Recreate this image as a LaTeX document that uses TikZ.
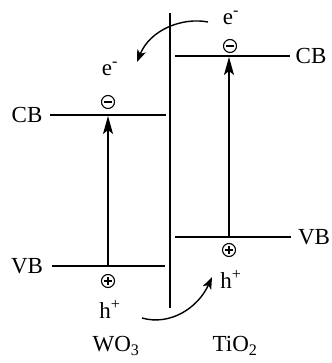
\documentclass[tikz,border=0pt]{standalone}
\usepackage{fontspec}
\setmainfont{Liberation Serif}
\usetikzlibrary{arrows.meta}

\begin{document}
\begin{tikzpicture}[x=1pt, y=-1pt, font=\fontsize{23}{25}\selectfont,
    band/.style={line width=1.8pt},
    excite/.style={line width=1.4pt, -{Stealth[length=18pt, width=10pt, inset=4pt]}},
    hop/.style={line width=1.4pt, -{Stealth[length=12pt, width=9pt, inset=3pt]}},
    elec/.style={circle, draw, line width=1.1pt, minimum size=13pt, inner sep=0pt,
        path picture={\draw[line width=1.1pt] ([xshift=2.5pt]path picture bounding box.west) -- ([xshift=-2.5pt]path picture bounding box.east);}},
    hole/.style={circle, draw, line width=1.1pt, minimum size=13pt, inner sep=0pt,
        path picture={\draw[line width=1.1pt] ([xshift=2.5pt]path picture bounding box.west) -- ([xshift=-2.5pt]path picture bounding box.east);
            \draw[line width=1.1pt] ([yshift=-2.5pt]path picture bounding box.north) -- ([yshift=2.5pt]path picture bounding box.south);}}]
    \useasboundingbox (0,0) rectangle (331,363);
    % interface
    \coordinate (top) at (170,13); \coordinate (bot) at (170,308);
    \draw[band] (top) -- (bot);
    % band edges
    \node (cbW) at (27,115) {CB}; \node (vbW) at (27,266) {VB};
    \node (cbT) at (311,56) {CB}; \node (vbT) at (314,237) {VB};
    \coordinate (cbWa) at (50,115); \coordinate (cbWb) at (166,115);
    \coordinate (vbWa) at (52,266); \coordinate (vbWb) at (165,266);
    \coordinate (cbTa) at (175,56); \coordinate (cbTb) at (290,56);
    \coordinate (vbTa) at (175,237); \coordinate (vbTb) at (291,237);
    \foreach \a/\b in {cbWa/cbWb, vbWa/vbWb, cbTa/cbTb, vbTa/vbTb} \draw[band] (\a) -- (\b);
    % carriers
    \coordinate (gW1) at (108,266); \coordinate (gW2) at (108,116);
    \coordinate (gT1) at (229,237); \coordinate (gT2) at (229,57);
    \draw[excite] (gW1) -- (gW2); \draw[excite] (gT1) -- (gT2);
    \node[elec] (eW) at (108,102) {}; \node[elec] (eT) at (230,46) {};
    \node[hole] (hW) at (108,281) {}; \node[hole] (hT) at (229,250) {};
    \node (eWl) at (110,69) {e\textsuperscript{-}}; \node (eTl) at (231,18) {e\textsuperscript{-}};
    \node (hWl) at (110,309) {h\textsuperscript{+}}; \node (hTl) at (231,279) {h\textsuperscript{+}};
    % transfer
    \coordinate (eS) at (208,22); \coordinate (eE) at (137,62);
    \coordinate (hS) at (142,318); \coordinate (hE) at (212,277);
    \draw[hop] (eS) .. controls (182,17) and (150,30) .. (eE);
    \draw[hop] (hS) .. controls (170,326) and (198,308) .. (hE);
    \node (wo) at (116,346) {WO\textsubscript{3}}; \node (ti) at (235,346) {TiO\textsubscript{2}};
\end{tikzpicture}
\end{document}
